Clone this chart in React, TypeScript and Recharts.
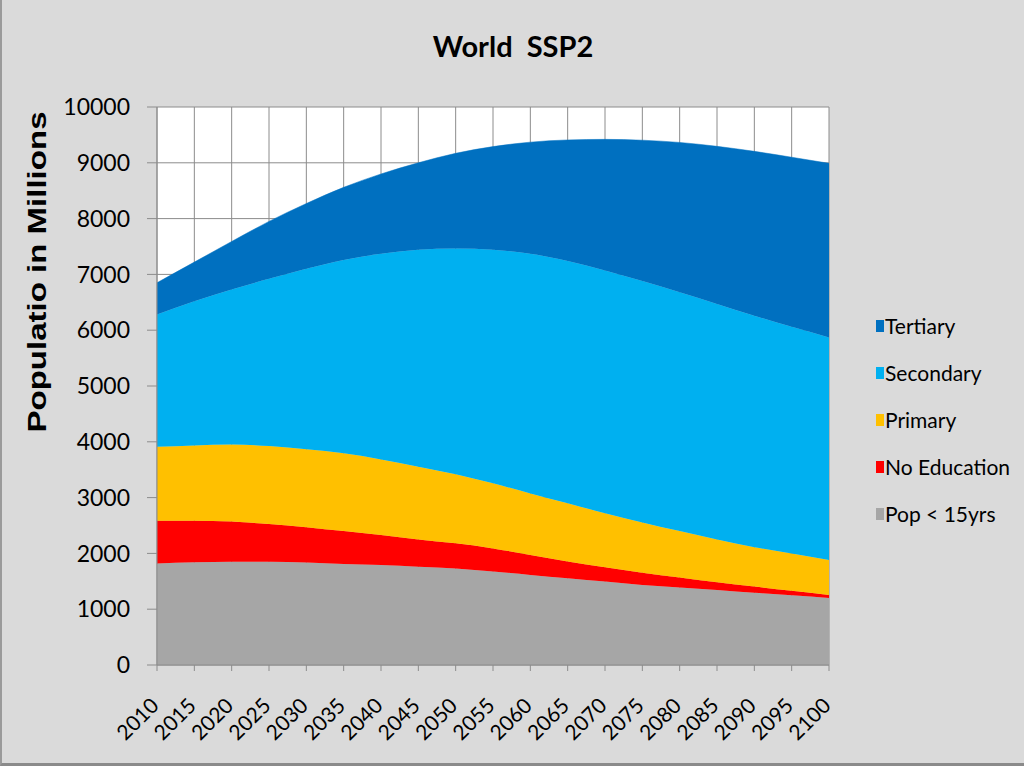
import React from 'react';
import { AreaChart, Area, XAxis, YAxis, CartesianGrid, Legend } from 'recharts';

const years = [2010, 2015, 2020, 2025, 2030, 2035, 2040, 2045, 2050, 2055, 2060, 2065, 2070, 2075, 2080, 2085, 2090, 2095, 2100];
const popUnder15 = [1820, 1840, 1850, 1850, 1835, 1810, 1790, 1760, 1730, 1675, 1615, 1555, 1495, 1435, 1390, 1345, 1295, 1250, 1200];
const noEducation = [765, 745, 720, 675, 635, 590, 540, 490, 450, 415, 355, 300, 255, 220, 180, 140, 110, 80, 55];
const primary = [1325, 1350, 1380, 1400, 1395, 1395, 1355, 1305, 1240, 1165, 1105, 1045, 970, 900, 830, 765, 705, 670, 625];
const secondary = [2370, 2585, 2780, 2995, 3235, 3465, 3685, 3885, 4045, 4185, 4295, 4340, 4350, 4325, 4280, 4220, 4150, 4060, 3990];
const tertiary = [570, 700, 860, 1030, 1170, 1300, 1430, 1560, 1705, 1850, 2000, 2170, 2350, 2525, 2685, 2825, 2945, 3040, 3120];
const yTicks = [0, 1000, 2000, 3000, 4000, 5000, 6000, 7000, 8000, 9000, 10000];

const seriesKeys = ['pop', 'noEdu', 'primary', 'secondary', 'tertiary'];
const seriesNames = ['Pop < 15yrs', 'No Education', 'Primary', 'Secondary', 'Tertiary'];
const seriesColors = ['#a6a6a6', '#ff0000', '#ffc000', '#00b0f0', '#0070c0'];
const seriesValues = [popUnder15, noEducation, primary, secondary, tertiary];

const titleText = 'World  SSP2';
const yLabelText = 'Populatio in Millions';

const data = years.map((yr, i) => {
  const row: Record<string, number | string> = { year: String(yr) };
  seriesKeys.forEach((k, s) => {
    row[k] = seriesValues[s][i];
  });
  return row;
});

const XTick = (props: any) => {
  const { x, y, payload } = props;
  const ax = x + 3;
  const ay = y + 34;
  return (
    <text
      x={ax}
      y={ay}
      transform={`rotate(-45 ${ax} ${ay})`}
      textAnchor="end"
      fontSize={21}
      fontFamily="Lato"
      fill="#000"
    >
      {payload.value}
    </text>
  );
};

const YLabel = () => {
  const cx = 46;
  const cy = 272;
  return (
    <text
      x={cx}
      y={cy}
      transform={`rotate(-90 ${cx} ${cy})`}
      textAnchor="middle"
      fontSize={25}
      fontWeight="bold"
      fontFamily="Liberation Sans"
      textLength={321}
      lengthAdjust="spacingAndGlyphs"
      fill="#000"
    >
      {yLabelText}
    </text>
  );
};

const LegendContent = () => {
  const order = [4, 3, 2, 1, 0];
  return (
    <div style={{ display: 'flex', flexDirection: 'column' }}>
      {order.map((s) => (
        <div key={seriesKeys[s]} style={{ height: 47, display: 'flex', alignItems: 'center' }}>
          <span style={{ display: 'inline-block', width: 8, height: 12, background: seriesColors[s], marginRight: 1 }} />
          <span style={{ fontFamily: 'Lato', fontSize: 21, color: '#000', whiteSpace: 'nowrap' }}>{seriesNames[s]}</span>
        </div>
      ))}
    </div>
  );
};

export default function App() {
  return (
    <div
      style={{
        position: 'absolute',
        left: 0,
        top: 0,
        width: 1024,
        height: 766,
        background: '#dadada',
        boxSizing: 'border-box',
        borderLeft: '2px solid #9a9a9a',
        borderBottom: '3px solid #8a8a8a',
        overflow: 'hidden',
      }}
    >
      <div
        style={{
          position: 'absolute',
          left: 0,
          width: 1022,
          top: 31,
          textAlign: 'center',
          fontFamily: 'Lato',
          fontWeight: 'bold',
          fontSize: 29,
          lineHeight: '29px',
          color: '#000',
          whiteSpace: 'pre',
        }}
      >
        {titleText}
      </div>
      <div style={{ position: 'absolute', left: -2, top: 0 }}>
        <AreaChart width={1024} height={766} data={data} margin={{ top: 107, right: 195, bottom: 11, left: 10 }}>
          <CartesianGrid stroke="#8c8c8c" strokeWidth={1} fill="#ffffff" fillOpacity={1} />
          <XAxis
            dataKey="year"
            interval={0}
            height={90}
            tick={<XTick />}
            tickSize={6}
            tickMargin={2}
            axisLine={{ stroke: '#8c8c8c' }}
            tickLine={{ stroke: '#8c8c8c' }}
          />
          <YAxis
            width={147}
            domain={[0, 10000]}
            ticks={yTicks}
            interval={0}
            tickSize={10}
            tickMargin={17}
            axisLine={{ stroke: '#8c8c8c' }}
            tickLine={{ stroke: '#8c8c8c' }}
            tick={{ fontSize: 23, fontFamily: 'Lato', fill: '#000' }}
            label={<YLabel />}
          />
          <Legend
            layout="vertical"
            align="center"
            verticalAlign="middle"
            content={<LegendContent />}
            wrapperStyle={{ position: 'absolute', left: 876, top: 302, width: 148 }}
          />
          {seriesKeys.map((k, s) => (
            <Area
              key={k}
              type="monotone"
              dataKey={k}
              name={seriesNames[s]}
              stackId="1"
              stroke={seriesColors[s]}
              strokeWidth={0.5}
              fill={seriesColors[s]}
              fillOpacity={1}
              isAnimationActive={false}
              dot={false}
              activeDot={false}
            />
          ))}
        </AreaChart>
      </div>
    </div>
  );
}
